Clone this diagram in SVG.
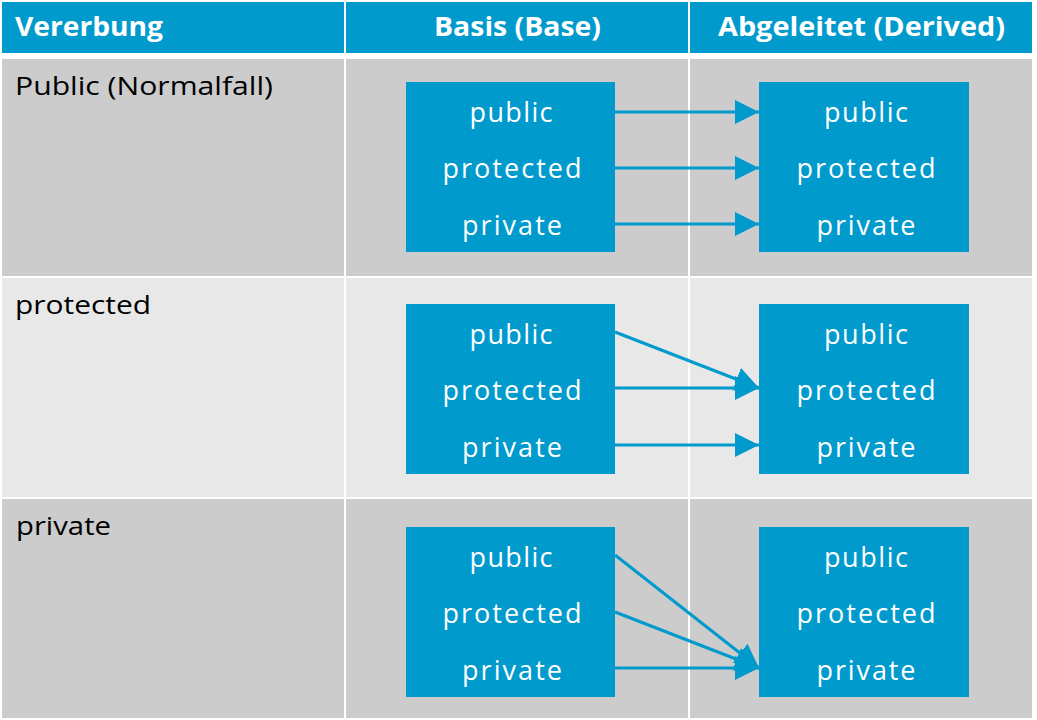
<svg xmlns="http://www.w3.org/2000/svg" width="1037" height="720" viewBox="0 0 1037 720">
<style>
.hdr{fill:#009ACD}
.g1{fill:#CCCCCC}
.g2{fill:#E8E8E8}
.box{fill:#009ACD}
.ht{font-family:"Open Sans","Noto Sans",sans-serif;font-weight:bold;font-size:27px;fill:#FFFFFF}
.lt{font-family:"Open Sans","Noto Sans",sans-serif;font-size:25px;fill:#000000}
.bt{font-family:"Open Sans","Noto Sans",sans-serif;font-size:27px;fill:#FFFFFF;text-anchor:middle}
.arr{stroke:#009ACD;stroke-width:3;fill:none;marker-end:url(#ah)}
</style>
<defs>
<marker id="ah" viewBox="0 0 24 24" refX="24" refY="12" markerWidth="24" markerHeight="24" markerUnits="userSpaceOnUse" orient="auto">
<path d="M0,0 L24,12 L0,24 Z" fill="#009ACD"/>
</marker>
</defs>
<rect width="1037" height="720" fill="#FFFFFF"/>
<g id="table">
<rect class="hdr" x="2" y="2" width="342" height="51"/>
<rect class="hdr" x="346" y="2" width="342" height="51"/>
<rect class="hdr" x="690" y="2" width="342" height="51"/>
<rect class="g1" x="2" y="59" width="342" height="217"/>
<rect class="g1" x="346" y="59" width="342" height="217"/>
<rect class="g1" x="690" y="59" width="342" height="217"/>
<rect class="g2" x="2" y="278" width="342" height="219"/>
<rect class="g2" x="346" y="278" width="342" height="219"/>
<rect class="g2" x="690" y="278" width="342" height="219"/>
<rect class="g1" x="2" y="499" width="342" height="219"/>
<rect class="g1" x="346" y="499" width="342" height="219"/>
<rect class="g1" x="690" y="499" width="342" height="219"/>
<text class="ht" x="15" y="36" textLength="148" lengthAdjust="spacingAndGlyphs">Vererbung</text>
<text class="ht" x="434" y="36" textLength="167" lengthAdjust="spacingAndGlyphs">Basis (Base)</text>
<text class="ht" x="718" y="36" textLength="287" lengthAdjust="spacingAndGlyphs">Abgeleitet (Derived)</text>
<text class="lt" x="15" y="95" textLength="258" lengthAdjust="spacingAndGlyphs">Public (Normalfall)</text>
<text class="lt" x="15" y="314" textLength="136" lengthAdjust="spacingAndGlyphs">protected</text>
<text class="lt" x="16" y="535" textLength="95" lengthAdjust="spacingAndGlyphs">private</text>
</g>
<g id="base1">
<rect class="box" x="406" y="82" width="209" height="170"/>
<text class="bt" x="511" y="122" textLength="83" lengthAdjust="spacing">public</text>
<text class="bt" x="512" y="178" textLength="139" lengthAdjust="spacing">protected</text>
<text class="bt" x="512" y="235" textLength="100" lengthAdjust="spacing">private</text>
</g>
<g id="derived1">
<rect class="box" x="759" y="82" width="210" height="170"/>
<text class="bt" x="866" y="122" textLength="84" lengthAdjust="spacing">public</text>
<text class="bt" x="866" y="178" textLength="139" lengthAdjust="spacing">protected</text>
<text class="bt" x="866" y="235" textLength="99" lengthAdjust="spacing">private</text>
</g>
<g id="base2">
<rect class="box" x="406" y="304" width="209" height="170"/>
<text class="bt" x="511" y="344" textLength="83" lengthAdjust="spacing">public</text>
<text class="bt" x="512" y="400" textLength="139" lengthAdjust="spacing">protected</text>
<text class="bt" x="512" y="457" textLength="100" lengthAdjust="spacing">private</text>
</g>
<g id="derived2">
<rect class="box" x="759" y="304" width="210" height="170"/>
<text class="bt" x="866" y="344" textLength="84" lengthAdjust="spacing">public</text>
<text class="bt" x="866" y="400" textLength="139" lengthAdjust="spacing">protected</text>
<text class="bt" x="866" y="457" textLength="99" lengthAdjust="spacing">private</text>
</g>
<g id="base3">
<rect class="box" x="406" y="527" width="209" height="170"/>
<text class="bt" x="511" y="567" textLength="83" lengthAdjust="spacing">public</text>
<text class="bt" x="512" y="623" textLength="139" lengthAdjust="spacing">protected</text>
<text class="bt" x="512" y="680" textLength="100" lengthAdjust="spacing">private</text>
</g>
<g id="derived3">
<rect class="box" x="759" y="527" width="210" height="170"/>
<text class="bt" x="866" y="567" textLength="84" lengthAdjust="spacing">public</text>
<text class="bt" x="866" y="623" textLength="139" lengthAdjust="spacing">protected</text>
<text class="bt" x="866" y="680" textLength="99" lengthAdjust="spacing">private</text>
</g>
<g id="connectors">
<line class="arr" x1="615" y1="112" x2="759" y2="112"/>
<line class="arr" x1="615" y1="168" x2="759" y2="168"/>
<line class="arr" x1="615" y1="224" x2="759" y2="224"/>
<line class="arr" x1="615" y1="332" x2="759" y2="388"/>
<line class="arr" x1="615" y1="388" x2="759" y2="388"/>
<line class="arr" x1="615" y1="445" x2="759" y2="445"/>
<line class="arr" x1="615" y1="555" x2="759" y2="668"/>
<line class="arr" x1="615" y1="612" x2="759" y2="668"/>
<line class="arr" x1="615" y1="668" x2="759" y2="668"/>
</g>
</svg>
